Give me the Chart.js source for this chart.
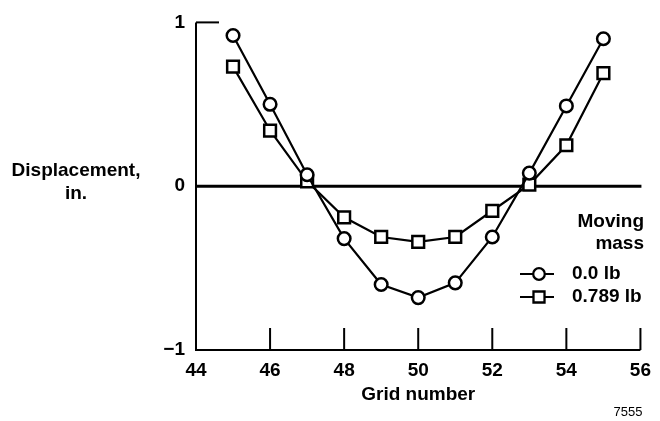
<!DOCTYPE html>
<html><head><meta charset="utf-8">
<script src="https://cdn.jsdelivr.net/npm/chart.js@4/dist/chart.umd.min.js"></script>
<style>html,body{margin:0;padding:0;background:#fff}#wrap{width:660px;height:421px}</style>
</head><body><div id="wrap"><canvas id="c" width="660" height="421"></canvas></div>
<script>
const gridNumbers = [45, 46, 47, 48, 49, 50, 51, 52, 53, 54, 55];
const mass0 = [0.92, 0.50, 0.07, -0.32, -0.60, -0.68, -0.59, -0.31, 0.08, 0.49, 0.90];
const mass789 = [0.73, 0.34, 0.03, -0.19, -0.31, -0.34, -0.31, -0.15, 0.01, 0.25, 0.69];
const xTicks = [44, 46, 48, 50, 52, 54, 56];
const xTickLabels = ['44', '46', '48', '50', '52', '54', '56'];
const yTicks = [-1, 0, 1];
const yTickLabels = ['\u22121', '0', '1'];
const seriesLabels = ['0.0 lb', '0.789 lb'];
const seriesMarkers = ['circle', 'rect'];
const legendTitle = ['Moving', 'mass'];
const yTitle = ['Displacement,', 'in.'];
const xTitle = 'Grid number';
const figNote = '7555';

const FONT = '"Liberation Sans", Arial, Helvetica, sans-serif';
const boldFont = {family: FONT, size: 19, weight: 'bold'};

function pts(ys) { return gridNumbers.map((x, i) => ({x: x, y: ys[i]})); }

const deco = {
  id: 'deco',
  beforeDatasetsDraw(chart) {
    const ctx = chart.ctx, xs = chart.scales.x, ys = chart.scales.y;
    ctx.save();
    ctx.strokeStyle = '#000';
    ctx.lineCap = 'butt';
    // zero line
    ctx.lineWidth = 3;
    ctx.beginPath();
    ctx.moveTo(xs.getPixelForValue(44), ys.getPixelForValue(0));
    ctx.lineTo(xs.getPixelForValue(56) + 1, ys.getPixelForValue(0));
    ctx.stroke();
    // left axis + bottom axis
    ctx.lineWidth = 2;
    ctx.beginPath();
    ctx.moveTo(xs.getPixelForValue(44), ys.getPixelForValue(1));
    ctx.lineTo(xs.getPixelForValue(44), ys.getPixelForValue(-1));
    ctx.lineTo(xs.getPixelForValue(56), ys.getPixelForValue(-1));
    ctx.stroke();
    // top tick at 1
    ctx.beginPath();
    ctx.moveTo(xs.getPixelForValue(44), ys.getPixelForValue(1));
    ctx.lineTo(xs.getPixelForValue(44) + 23, ys.getPixelForValue(1));
    ctx.stroke();
    // inward x ticks
    ctx.beginPath();
    xTicks.forEach(v => {
      if (v === 44) return;
      const px = xs.getPixelForValue(v);
      ctx.moveTo(px, ys.getPixelForValue(-1));
      ctx.lineTo(px, ys.getPixelForValue(-1) - 22);
    });
    ctx.stroke();
    ctx.restore();
  },
  afterDraw(chart) {
    const ctx = chart.ctx;
    ctx.save();
    ctx.fillStyle = '#000';
    ctx.font = 'bold 19px ' + FONT;
    ctx.textBaseline = 'middle';
    // y title (horizontal)
    ctx.textAlign = 'center';
    ctx.fillText(yTitle[0], 76, 171);
    ctx.fillText(yTitle[1], 76, 194);
    // legend title
    ctx.textAlign = 'right';
    ctx.fillText(legendTitle[0], 644, 222);
    ctx.fillText(legendTitle[1], 644, 244);
    // legend entries
    const rows = [274, 297];
    chart.data.datasets.forEach((ds, i) => {
      const y = rows[i];
      ctx.strokeStyle = '#000';
      ctx.lineWidth = 2;
      ctx.beginPath();
      ctx.moveTo(520, y);
      ctx.lineTo(554, y);
      ctx.stroke();
      ctx.fillStyle = '#fff';
      ctx.strokeStyle = '#000';
      ctx.lineWidth = 2.3;
      Chart.helpers.drawPoint(ctx, {pointStyle: ds.pointStyle, radius: ds.pointRadius - 0.5, borderWidth: 2.3}, 539, y);
      ctx.fillStyle = '#000';
      ctx.textAlign = 'left';
      ctx.fillText(ds.label, 572, y);
    });
    // figure number
    ctx.font = '13px ' + FONT;
    ctx.textAlign = 'center';
    ctx.fillText(figNote, 628, 412);
    ctx.restore();
  }
};

new Chart(document.getElementById('c'), {
  type: 'line',
  data: {
    datasets: [
      {label: seriesLabels[0], data: pts(mass0), pointStyle: seriesMarkers[0], pointRadius: 6.3,
       borderColor: '#000', borderWidth: 2.2, pointBorderWidth: 2.5, pointBackgroundColor: '#fff', pointBorderColor: '#000', tension: 0},
      {label: seriesLabels[1], data: pts(mass789), pointStyle: seriesMarkers[1], pointRadius: 8.3,
       borderColor: '#000', borderWidth: 2.2, pointBorderWidth: 2.5, pointBackgroundColor: '#fff', pointBorderColor: '#000', tension: 0}
    ]
  },
  options: {
    responsive: false,
    animation: false,
    devicePixelRatio: 1,
    layout: {padding: {top: 17, right: 14, left: 0, bottom: 0}},
    plugins: {legend: {display: false}, tooltip: {enabled: false}},
    scales: {
      x: {
        type: 'linear', min: 44, max: 56,
        afterBuildTicks: s => { s.ticks = xTicks.map(v => ({value: v})); },
        afterFit: s => { s.height = 71; },
        grid: {display: false, drawTicks: false},
        border: {display: false},
        ticks: {color: '#000', font: boldFont, padding: 9, autoSkip: false, maxRotation: 0,
                callback: v => xTickLabels[xTicks.indexOf(v)]},
        title: {display: true, text: xTitle, color: '#000', font: boldFont, padding: {top: 0, bottom: 15}}
      },
      y: {
        type: 'linear', min: -1, max: 1,
        afterBuildTicks: s => { s.ticks = yTicks.map(v => ({value: v})); },
        afterFit: s => { s.width = 196; },
        grid: {display: false, drawTicks: false},
        border: {display: false},
        ticks: {color: '#000', font: boldFont, padding: 11,
                callback: v => yTickLabels[yTicks.indexOf(v)]}
      }
    }
  },
  plugins: [deco]
});
</script>
</body></html>
